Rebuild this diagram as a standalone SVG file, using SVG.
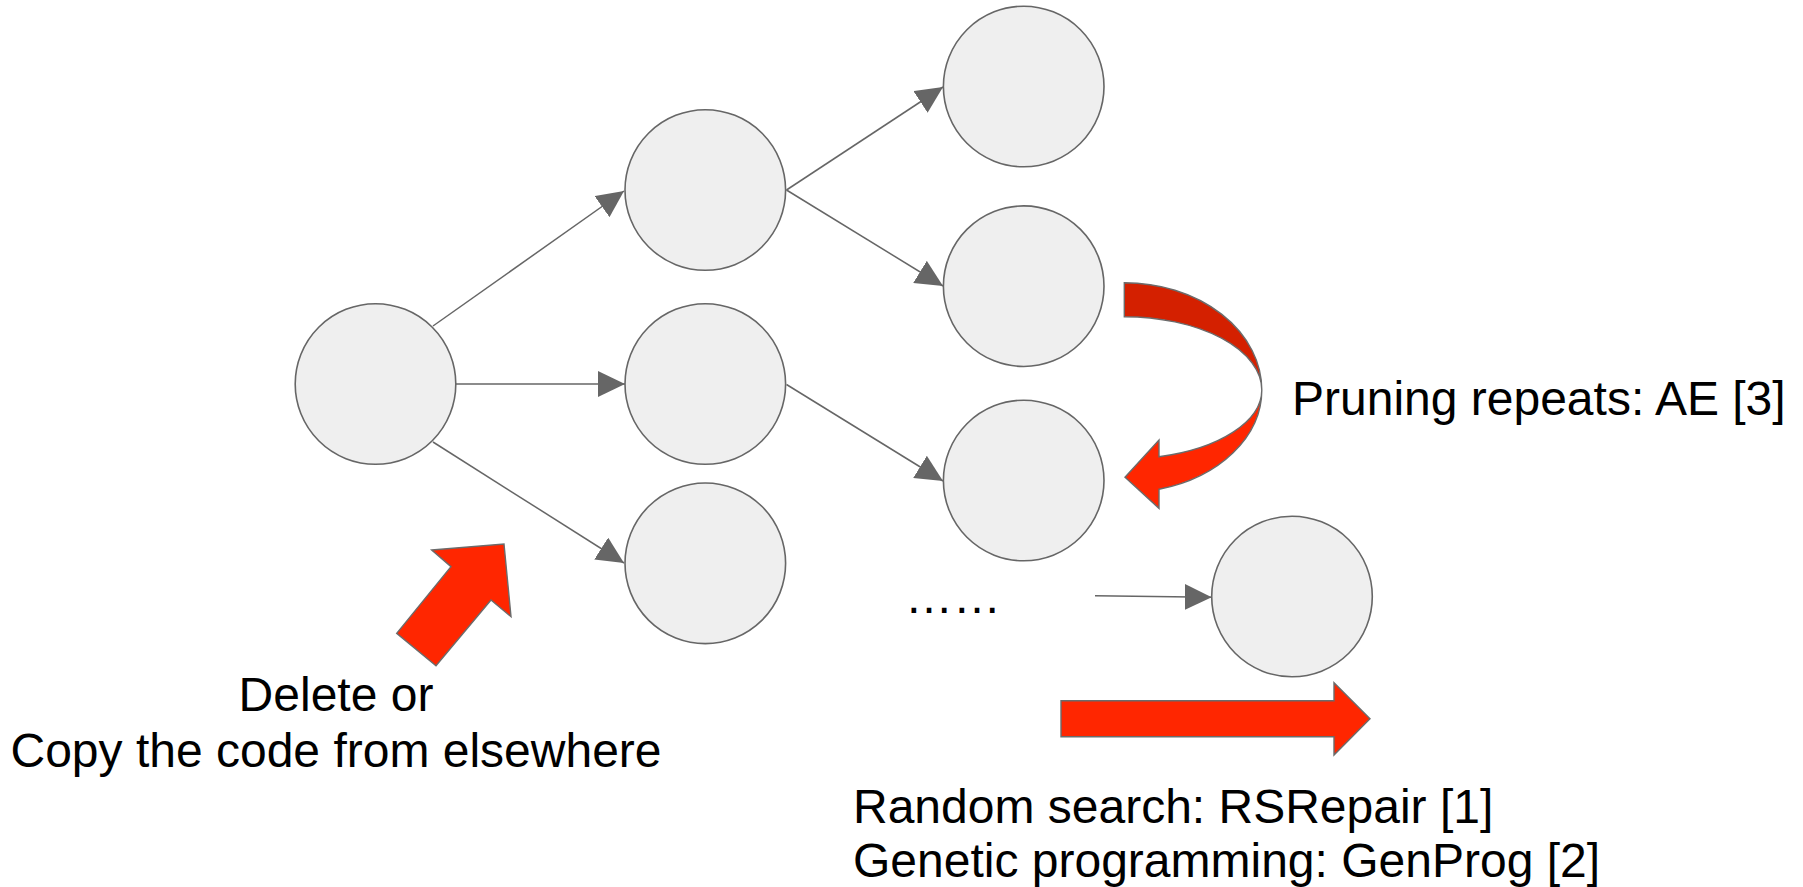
<svg xmlns="http://www.w3.org/2000/svg" width="1803" height="887" viewBox="0 0 1803 887">
  <style>
    .node { fill: #efefef; stroke: #666666; stroke-width: 1.6; }
    .edge { stroke: #666666; stroke-width: 1.5; fill: none; marker-end: url(#head); }
    .hint { fill: #ff2600; stroke: #6b6b6b; stroke-width: 1.4; stroke-linejoin: miter; }
    .hint-dark { fill: #d42000; stroke: #6b6b6b; stroke-width: 1.4; }
    .label { font-family: "Liberation Sans", Arial, sans-serif; font-size: 48px; fill: #000000; }
  </style>
  <defs>
    <marker id="head" markerUnits="userSpaceOnUse" viewBox="0 0 27 26" markerWidth="27" markerHeight="26" refX="27" refY="13" orient="auto">
      <path d="M0,0 L27,13 L0,26 Z" fill="#666666"/>
    </marker>
  </defs>

  <rect width="1803" height="887" fill="#ffffff"/>

  <!-- connectors -->
  <g id="connectors">
    <line class="edge" x1="433" y1="326" x2="624" y2="191"/>
    <line class="edge" x1="456" y1="384" x2="625" y2="384"/>
    <line class="edge" x1="433" y1="442" x2="624" y2="563"/>
    <line class="edge" x1="786.5" y1="190" x2="943" y2="87"/>
    <line class="edge" x1="786.5" y1="190" x2="943" y2="286"/>
    <line class="edge" x1="786.5" y1="384.5" x2="943" y2="481"/>
    <line class="edge" x1="1095" y1="595.7" x2="1211.7" y2="597.3"/>
  </g>

  <!-- search tree nodes -->
  <g id="root"><circle class="node" cx="375.5" cy="384" r="80.3"/></g>
  <g id="n1a"><circle class="node" cx="705.3" cy="190" r="80.3"/></g>
  <g id="n1b"><circle class="node" cx="705.3" cy="384" r="80.3"/></g>
  <g id="n1c"><circle class="node" cx="705.3" cy="563.3" r="80.3"/></g>
  <g id="n2a"><circle class="node" cx="1023.7" cy="86.5" r="80.3"/></g>
  <g id="n2b"><circle class="node" cx="1023.7" cy="286.2" r="80.3"/></g>
  <g id="n2c"><circle class="node" cx="1023.7" cy="480.5" r="80.3"/></g>
  <g id="n3"><circle class="node" cx="1292" cy="596.5" r="80.3"/></g>

  <!-- ellipsis between levels -->
  <g id="ellipsis">
    <text class="label" x="905" y="613" font-size="41">……</text>
  </g>

  <!-- mutation hint arrow -->
  <g id="mutation">
    <polygon class="hint" points="431.7,550 504,544 511,616.7 491,600 436,665.7 396.7,633.3 451,566.7"/>
    <text class="label" text-anchor="middle" x="336" y="711">Delete or</text>
    <text class="label" text-anchor="middle" x="336" y="767">Copy the code from elsewhere</text>
  </g>

  <!-- pruning u-turn arrow -->
  <g id="pruning">
    <path class="hint" d="M1261.8,390 A137.5,102.6 0 0 1 1159,489.3 L1159,508.3 L1125,477.3 L1159,440 L1159,456.7 A137.5,68.9 0 0 0 1261.8,390 Z"/>
    <path class="hint-dark" d="M1124.3,282.7 A137.5,107.3 0 0 1 1261.8,390 A137.5,73.3 0 0 0 1124.3,316.7 Z"/>
    <text class="label" x="1292" y="415">Pruning repeats: AE [3]</text>
  </g>

  <!-- search direction arrow -->
  <g id="search">
    <polygon class="hint" points="1061,700.7 1334,700.7 1334,682.7 1370,718.7 1334,755 1334,736.7 1061,736.7"/>
    <text class="label" x="853" y="823">Random search: RSRepair [1]</text>
    <text class="label" x="853" y="877">Genetic programming: GenProg [2]</text>
  </g>
</svg>
